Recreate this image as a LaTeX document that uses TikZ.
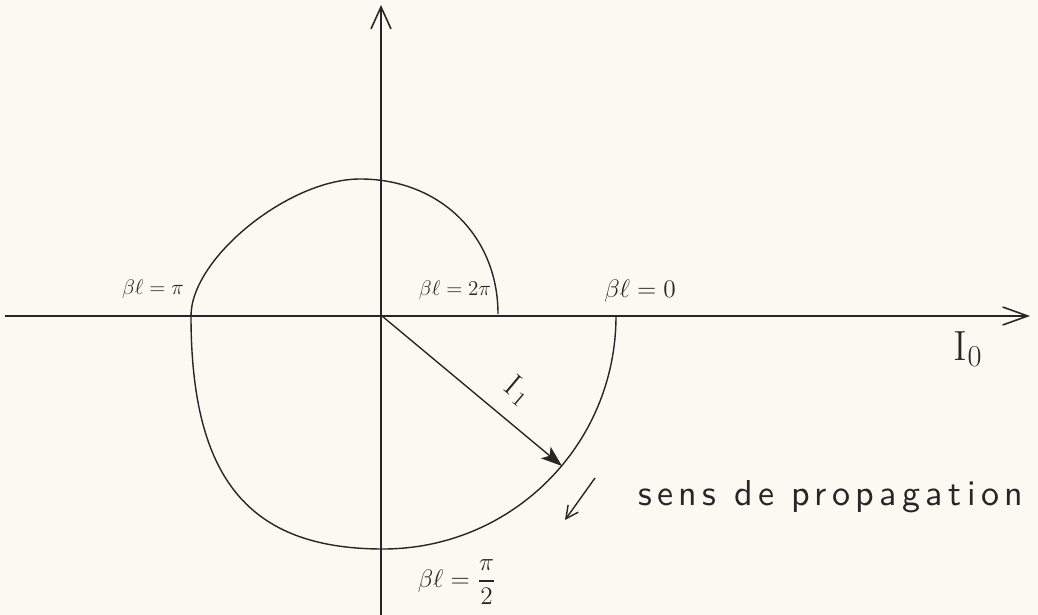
\documentclass[tikz,border=0pt]{standalone}
\usepackage{amsmath}
\usepackage{fontspec}
\newfontfamily\spacedsans[LetterSpace=15]{lmsans10-regular.otf}
\usetikzlibrary{arrows.meta}
\definecolor{ink}{HTML}{262626}
\definecolor{paper}{HTML}{FBF9F2}
\begin{document}
\begin{tikzpicture}[x=0.02cm,y=-0.02cm,
  ink line/.style={draw=ink, line width=0.8pt},
  axis arrow/.style={ink line, -{Straight Barb[length=0.5cm,width=0.36cm,line width=0.9pt]}},
  lbl/.style={text=ink, inner sep=0pt}]
\fill[paper] (0,0) rectangle (1038,615);
\useasboundingbox (0,0) rectangle (1038,615);
% axes
\coordinate (O) at (382,316);
\coordinate (xL) at (5,316);
\coordinate (xR) at (1030,316);
\coordinate (yB) at (381,615);
\coordinate (yT) at (381,5);
\draw[axis arrow] (xL) -- (xR);
\draw[ink line, -{Straight Barb[length=0.44cm,width=0.4cm,line width=0.9pt]}] (yB) -- (yT);
% spiral locus
\coordinate (A0) at (616,316);
\coordinate (Abot) at (383,549);
\coordinate (Apl) at (191,316);
\coordinate (Atop) at (360,179);
\coordinate (A2pi) at (498,314);
\draw[ink line] (A0) .. controls (616,445) and (512,549) .. (Abot)
  .. controls (249,549) and (191,479) .. (Apl)
  .. controls (191,258) and (289,179) .. (Atop)
  .. controls (440,179) and (498,236) .. (A2pi);
\coordinate (P) at (562,466);
% vector I1
\draw[ink line, -{Stealth[length=0.42cm,width=0.3cm,inset=0.1cm]}] (O) -- (P);
\node[lbl, rotate=-40, font=\fontsize{18}{22}\selectfont] (i1) at (518,391) {$\mathrm{I}_{\,1}$};
% propagation arrow
\coordinate (s1) at (595,478);
\coordinate (s2) at (565,520);
\draw[ink line, -{Straight Barb[length=0.25cm,width=0.25cm]}] (s1) -- (s2);
% labels
\node[lbl, font=\fontsize{12}{15}\selectfont] (bpi) at (153,289) {$\beta\ell=\pi$};
\node[lbl, font=\fontsize{12}{15}\selectfont] (b2pi) at (455,290) {$\beta\ell=2\pi$};
\node[lbl, font=\fontsize{14}{16}\selectfont] (b0) at (640,291) {$\beta\ell=0$};
\node[lbl, font=\fontsize{14}{16}\selectfont] (bpi2) at (457,582) {$\beta\ell=\dfrac{\pi}{2}$};
\node[lbl, font=\fontsize{24}{28}\selectfont] (i0) at (968,349) {$\mathrm{I}_{0}$};
\node[lbl, font=\spacedsans\fontsize{20.5}{24}\selectfont, anchor=west] (sens) at (638,497) {sens de propagation};
\end{tikzpicture}
\end{document}
